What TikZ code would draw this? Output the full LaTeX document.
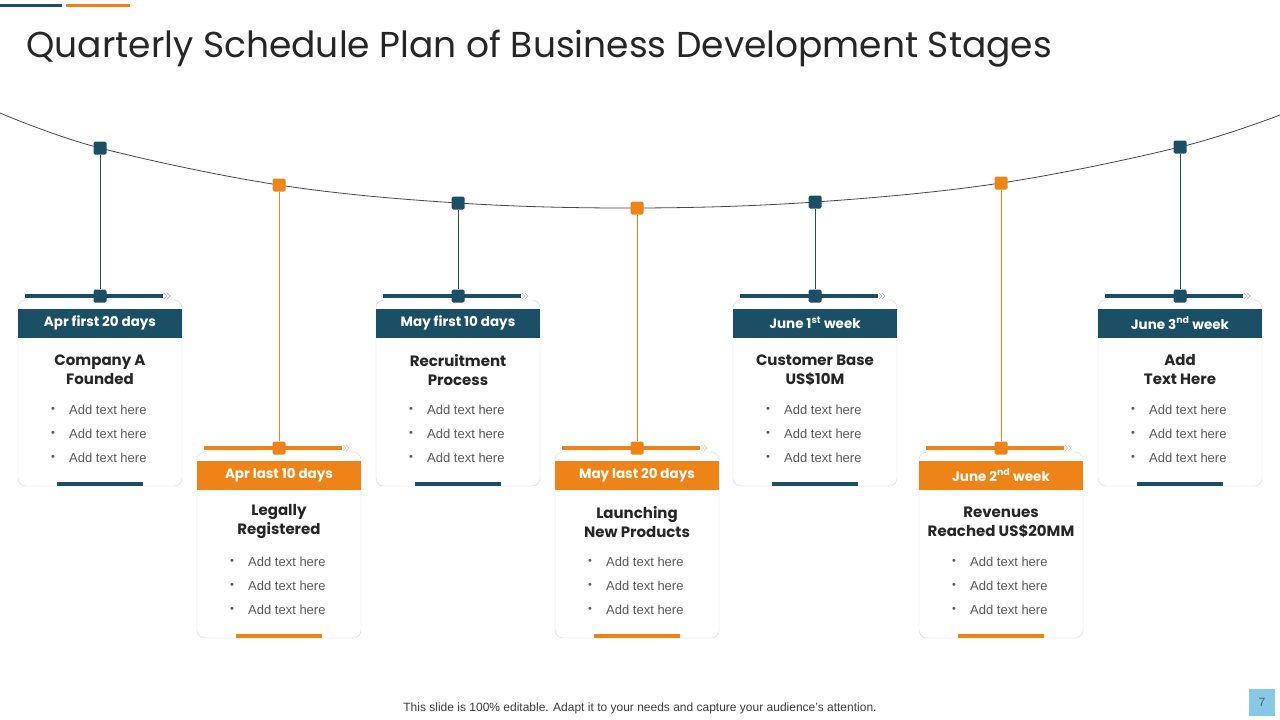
\documentclass[tikz,border=0pt]{standalone}
\usepackage{fontspec}
\setmainfont{Liberation Sans}
\newfontfamily\gothic{Poppins}
\usetikzlibrary{positioning, calc}
\definecolor{stageblue}{HTML}{1B4F66}
\definecolor{stageorange}{HTML}{EE8417}
\definecolor{cardline}{HTML}{D6D6D6}
\definecolor{inkgray}{HTML}{262626}
\definecolor{itemgray}{HTML}{595959}
\definecolor{pagebox}{HTML}{86C9E6}

\begin{document}
\begin{tikzpicture}[x=1pt, y=-1pt,
    marker/.style={minimum size=13pt, inner sep=0pt, rounded corners=1.5pt},
    header/.style={minimum width=164pt, minimum height=29pt, inner sep=0pt, text=white,
        font=\gothic\bfseries\fontsize{13.5}{16}\selectfont},
    stagetitle/.style={align=center, text=inkgray, inner sep=0pt,
        font=\gothic\bfseries\fontsize{15}{19}\selectfont},
    item/.style={anchor=west, text=itemgray, inner sep=0pt, font=\fontsize{13}{16}\selectfont}]
    \useasboundingbox (0,0) rectangle (1280,720);
    \fill[white] (0,0) rectangle (1280,720);

    % top bars and title
    \fill[stageblue] (0,4) rectangle (62,7);
    \fill[stageorange] (66,4) rectangle (130,7);
    \node[anchor=west, text=inkgray, font=\gothic\fontsize{36}{40}\selectfont] (title) at (23,49)
        {Quarterly Schedule Plan of Business Development Stages};

    % the hanging line
    \draw[inkgray!85, line width=0.8pt] plot[smooth, tension=0.6] coordinates {(0,113) (100,148)
        (279,185) (458,203) (637,208) (815,202) (1001,183) (1180,147) (1280,115)};

    \foreach \cx/\my/\ty/\col/\hd/\ttl [count=\i] in {
        100/148/296/stageblue/{Apr first 20 days}/{Company A\\Founded},
        279/185/448/stageorange/{Apr last 10 days}/{Legally\\Registered},
        458/203/296/stageblue/{May first 10 days}/{Recruitment\\Process},
        637/208/448/stageorange/{May last 20 days}/{Launching\\New Products},
        815/202/296/stageblue/{June 1\textsuperscript{st} week}/{Customer Base\\US\$10M},
        1001/183/448/stageorange/{June 2\textsuperscript{nd} week}/{Revenues\\Reached US\$20MM},
        1180/147/296/stageblue/{June 3\textsuperscript{nd} week}/{Add\\Text Here}} {
        % card
        \draw[cardline, rounded corners=8pt] (\cx-82,\ty+4) rectangle (\cx+82,\ty+190);
        \node[header, fill=\col] (head\i) at (\cx,\ty+27) {\hd};
        \node[stagetitle] (name\i) at (\cx,\ty+74) {\ttl};
        \foreach \k in {0,1,2} {
            \node[text=itemgray, inner sep=0pt, font=\fontsize{11}{12}\selectfont] (dot\i-\k)
                at (\cx-47,\ty+114+24*\k) {•};
            \node[item] (item\i-\k) at (\cx-31,\ty+114+24*\k) {Add text here};
        }
        \draw[\col, line width=4pt] (\cx-43,\ty+188) -- (\cx+43,\ty+188);
        % rail on top of the card
        \draw[\col, line width=3.5pt] (\cx-75,\ty) -- (\cx+63,\ty);
        \draw[\col!45, line width=0.6pt] (\cx+64,\ty-3) -- (\cx+67,\ty) -- (\cx+64,\ty+3)
            (\cx+67,\ty-3) -- (\cx+70,\ty) -- (\cx+67,\ty+3);
        % pins and hanging thread
        \node[marker, fill=\col] (pin\i) at (\cx,\my) {};
        \node[marker, fill=\col] (hook\i) at (\cx,\ty) {};
        \draw[\col, line width=1pt] (pin\i) -- (hook\i);
    }

    % footer
    \node[text=inkgray!90, font=\fontsize{12}{14}\selectfont] (foot) at (640,708)
        {This slide is 100\% editable. Adapt it to your needs and capture your audience's attention.};
    \node[fill=pagebox, minimum width=26pt, minimum height=27pt, inner sep=0pt, text=itemgray,
        font=\fontsize{12}{14}\selectfont] (page) at (1262,702.5) {7};
\end{tikzpicture}
\end{document}
